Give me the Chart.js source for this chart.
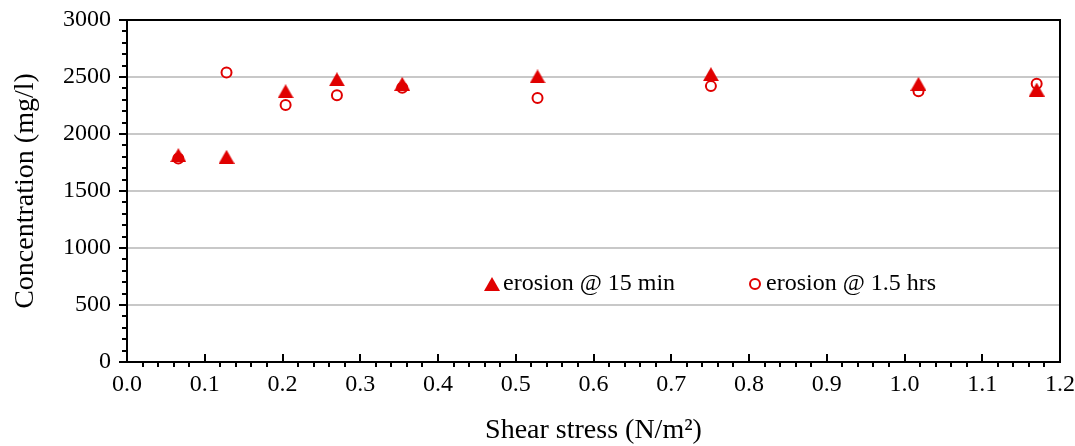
<!DOCTYPE html>
<html>
<head>
<meta charset="utf-8">
<script src="https://cdn.jsdelivr.net/npm/chart.js@4"></script>
<style>
  html, body { margin: 0; padding: 0; background: #fff; }
  #wrap { width: 1075px; height: 446px; }
</style>
</head>
<body>
<div id="wrap"><canvas id="chart"></canvas></div>
<script>
// shear stress (N/m2) for each run
const shearStress = [0.066, 0.128, 0.204, 0.270, 0.354, 0.528, 0.751, 1.018, 1.170];
// concentration (mg/l)
const conc15min = [1815, 1800, 2375, 2480, 2440, 2505, 2525, 2440, 2390];
const conc15hrs = [1785, 2540, 2255, 2340, 2405, 2315, 2420, 2375, 2440];
const seriesLabels = ['erosion @ 15 min', 'erosion @ 1.5 hrs'];

const RED = '#e00000';
const SERIF = "'Liberation Serif', 'Times New Roman', serif";

// filled triangle marker, centred on its bounding box like Excel does
const tri = document.createElement('canvas');
tri.width = 16; tri.height = 14;
(function () {
  const c = tri.getContext('2d');
  c.fillStyle = RED;
  c.beginPath();
  c.moveTo(8, 0);
  c.lineTo(16, 14);
  c.lineTo(0, 14);
  c.closePath();
  c.fill();
})();

const toPoints = (xs, ys) => xs.map((x, i) => ({ x: x, y: ys[i] }));

// minor ticks, top/right frame and the in-plot legend
const extras = {
  id: 'extras',
  afterDraw(chart) {
    const ctx = chart.ctx;
    const a = chart.chartArea;
    const xs = chart.scales.x, ys = chart.scales.y;
    ctx.save();
    ctx.strokeStyle = '#000';
    ctx.lineWidth = 2;
    ctx.beginPath();
    ctx.moveTo(a.left, a.top);
    ctx.lineTo(a.right, a.top);
    ctx.lineTo(a.right, a.bottom);
    ctx.stroke();

    ctx.beginPath();
    for (let v = 0; v <= 3000; v += 100) {
      const p = Math.round(ys.getPixelForValue(v));
      const major = v % 500 === 0;
      ctx.moveTo(a.left - (major ? 8 : 5), p);
      ctx.lineTo(a.left, p);
    }
    for (let i = 0; i <= 60; i++) {
      const p = Math.round(xs.getPixelForValue(i * 0.02));
      if (i % 5 === 0) {
        ctx.moveTo(p, a.bottom);
        ctx.lineTo(p, a.bottom - 8);
      } else {
        ctx.moveTo(p, a.bottom);
        ctx.lineTo(p, a.bottom + 5);
      }
    }
    ctx.stroke();

    // legend
    const ly = 284;
    ctx.drawImage(tri, 484, ly - 7);
    ctx.beginPath();
    ctx.arc(755, ly, 5, 0, Math.PI * 2);
    ctx.fillStyle = '#fff';
    ctx.fill();
    ctx.strokeStyle = RED;
    ctx.lineWidth = 2;
    ctx.stroke();
    ctx.fillStyle = '#000';
    ctx.font = '24px ' + SERIF;
    ctx.textBaseline = 'middle';
    ctx.fillText(seriesLabels[0], 503, ly);
    ctx.fillText(seriesLabels[1], 766, ly);
    ctx.restore();
  }
};

new Chart(document.getElementById('chart'), {
  type: 'scatter',
  data: {
    datasets: [
      {
        label: seriesLabels[0],
        data: toPoints(shearStress, conc15min),
        pointStyle: tri,
        pointRadius: 8,
        pointHoverRadius: 8
      },
      {
        label: seriesLabels[1],
        data: toPoints(shearStress, conc15hrs),
        pointStyle: 'circle',
        pointRadius: 5,
        pointHoverRadius: 5,
        borderColor: RED,
        backgroundColor: '#fff',
        borderWidth: 2
      }
    ]
  },
  options: {
    responsive: true,
    maintainAspectRatio: false,
    animation: false,
    layout: { padding: { top: 20, right: 15, left: 0, bottom: 0 } },
    plugins: { legend: { display: false }, tooltip: { enabled: false } },
    scales: {
      x: {
        min: 0, max: 1.2,
        afterFit: (s) => { s.height = 84; s.paddingLeft = 0; s.paddingRight = 0; },
        ticks: {
          stepSize: 0.1,
          padding: 8,
          color: '#000',
          font: { family: SERIF, size: 24 },
          callback: (v) => Number(v).toFixed(1)
        },
        grid: { display: false, drawTicks: false },
        border: { display: true, color: '#000', width: 2 },
        title: {
          display: true,
          text: 'Shear stress (N/m²)',
          color: '#000',
          font: { family: SERIF, size: 28, lineHeight: 1.1 },
          padding: { top: 0, bottom: 0 }
        }
      },
      y: {
        min: 0, max: 3000,
        afterFit: (s) => { s.width = 127; s.paddingTop = 0; s.paddingBottom = 0; },
        ticks: {
          stepSize: 500,
          padding: 16,
          color: '#000',
          font: { family: SERIF, size: 24 },
          callback: (v) => String(v)
        },
        grid: { color: '#c8c8c8', lineWidth: 2, drawTicks: false },
        border: { display: true, color: '#000', width: 2 },
        title: {
          display: true,
          text: 'Concentration (mg/l)',
          color: '#000',
          font: { family: SERIF, size: 28, lineHeight: 1.1 },
          padding: { top: 10, bottom: 0 }
        }
      }
    }
  },
  plugins: [extras]
});
</script>
</body>
</html>
